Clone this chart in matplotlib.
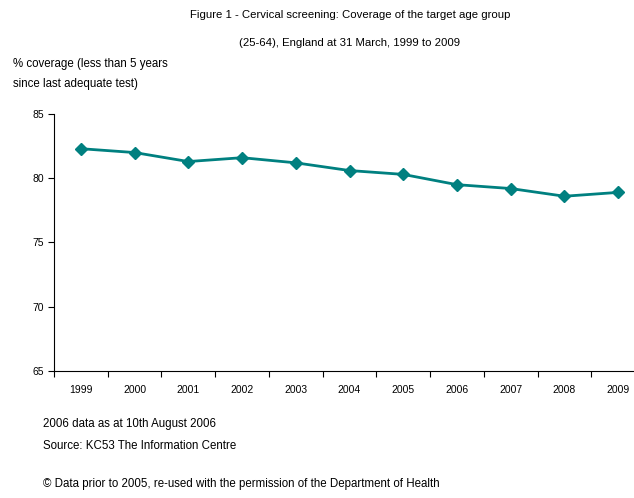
import matplotlib
matplotlib.use('Agg')
import matplotlib.pyplot as plt

years = ['1999', '2000', '2001', '2002', '2003', '2004', '2005', '2006', '2007', '2008', '2009']
coverage = [82.3, 82.0, 81.3, 81.6, 81.2, 80.6, 80.3, 79.5, 79.2, 78.6, 78.9]
y_ticks = [65, 70, 75, 80, 85]

plt.rcParams['font.family'] = ['Liberation Sans', 'DejaVu Sans']
fs_title = 8.2
fs_tick = 7.5
fs_body = 8.3

fig = plt.figure(figsize=(6.34, 4.98), dpi=100)
ax = fig.add_axes([54/634, 1-371/498, (645-54)/634, (371-114)/498])

x = list(range(len(years)))
ax.plot(x, coverage, color='#008080', linewidth=2, marker='D', markersize=6, clip_on=False)

ax.set_xlim(-0.5, len(years) - 0.5)
ax.set_ylim(65, 85)
ax.set_yticks(y_ticks)
ax.set_yticklabels([str(v) for v in y_ticks], fontsize=fs_tick)
ax.set_xticks(x)
ax.set_xticklabels(years, fontsize=fs_tick)
ax.set_xticks([i - 0.5 for i in range(len(years) + 1)], minor=True)
ax.tick_params(axis='x', which='major', length=0, pad=10)
ax.tick_params(axis='x', which='minor', length=4, width=0.8, direction='out')
ax.tick_params(axis='y', length=4, width=0.8, direction='out', pad=3)
for side in ['top', 'right']:
    ax.spines[side].set_visible(False)
for side in ['left', 'bottom']:
    ax.spines[side].set_linewidth(0.8)

fig.text(350/634, 1-15/498, 'Figure 1 - Cervical screening: Coverage of the target age group',
         ha='center', va='center', fontsize=fs_title)
fig.text(350/634, 1-43/498, '(25-64), England at 31 March, 1999 to 2009',
         ha='center', va='center', fontsize=fs_title)
fig.text(13/634, 1-64/498, '% coverage (less than 5 years', ha='left', va='center', fontsize=fs_body)
fig.text(13/634, 1-84/498, 'since last adequate test)', ha='left', va='center', fontsize=fs_body)

fig.text(43/634, 1-424/498, '2006 data as at 10th August 2006', ha='left', va='center', fontsize=fs_body)
fig.text(43/634, 1-446/498, 'Source: KC53 The Information Centre', ha='left', va='center', fontsize=fs_body)
fig.text(43/634, 1-484/498, '\u00a9 Data prior to 2005, re-used with the permission of the Department of Health',
         ha='left', va='center', fontsize=fs_body)

fig.savefig('out.png', dpi=100)
